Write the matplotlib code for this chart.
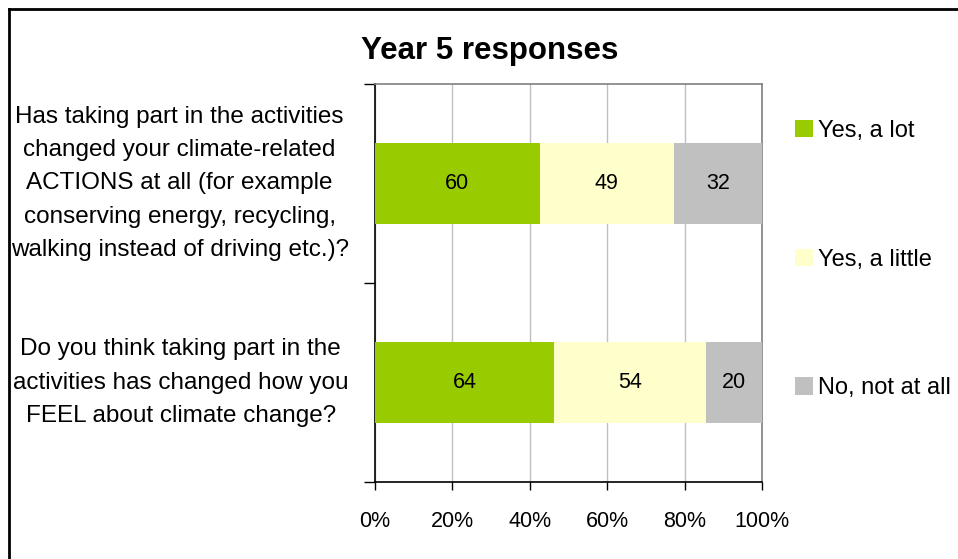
import numpy as np
import matplotlib.pyplot as plt
from matplotlib.lines import Line2D

plt.rcParams['font.family'] = ['Liberation Sans', 'DejaVu Sans']

questions = [
    "Has taking part in the activities\nchanged your climate-related\nACTIONS at all (for example\nconserving energy, recycling,\nwalking instead of driving etc.)?",
    "Do you think taking part in the\nactivities has changed how you\nFEEL about climate change?",
]
answers = ["Yes, a lot", "Yes, a little", "No, not at all"]
yes_lot = [60, 64]
yes_little = [49, 54]
not_at_all = [32, 20]
colors = ["#99CC00", "#FFFFCC", "#C0C0C0"]

counts = np.array([yes_lot, yes_little, not_at_all], dtype=float)
shares = counts / counts.sum(axis=0) * 100

fig = plt.figure(figsize=(9.58, 5.59), dpi=100)
ax = fig.add_axes([375 / 958, 1 - 482 / 559, 387 / 958, 398 / 559])

ypos = np.arange(len(questions))
left = np.zeros(len(questions))
for i, name in enumerate(answers):
    bars = ax.barh(ypos, shares[i], left=left, height=0.41, color=colors[i],
                   label=name, zorder=3)
    ax.bar_label(bars, labels=[f"{int(v)}" for v in counts[i]],
                 label_type='center', fontsize=15.5)
    left += shares[i]

ax.set_xlim(0, 100)
ax.set_ylim(1.5, -0.5)
ax.set_xticks(np.arange(0, 101, 20))
ax.set_xticklabels([f"{v}%" for v in range(0, 101, 20)], fontsize=15.5)
ax.tick_params(axis='x', length=6, width=1, pad=15)
ax.grid(axis='x', color='#C0C0C0', lw=1, zorder=0)

# category boundaries carry the tick marks, centers carry the labels
ax.set_yticks([-0.5, 0.5, 1.5])
ax.set_yticklabels([])
ax.tick_params(axis='y', which='major', length=8, width=1)
ax.set_yticks(ypos, minor=True)
ax.set_yticklabels(questions, minor=True, fontsize=17.5, ha='right', va='center',
                   multialignment='center', linespacing=1.65)
ax.tick_params(axis='y', which='minor', length=0, pad=19)

for side in ['left', 'bottom']:
    ax.spines[side].set_color('black')
    ax.spines[side].set_linewidth(1.2)
for side in ['top', 'right']:
    ax.spines[side].set_color('#808080')
    ax.spines[side].set_linewidth(1.2)

fig.text(490 / 958, 1 - 51 / 559, "Year 5 responses", fontsize=22.5,
         fontweight='bold', ha='center', va='center')

ax.legend(loc='center left', bbox_to_anchor=(1.03, 0.559), frameon=False,
          fontsize=17, handlelength=0.75, handleheight=0.75, handletextpad=0.22,
          labelspacing=4.52)

# outer chart frame
fig.add_artist(Line2D([8.5 / 958, 1], [1 - 8.5 / 559] * 2, color='black', lw=2))
fig.add_artist(Line2D([8.5 / 958] * 2, [0, 1 - 8.5 / 559], color='black', lw=2))

fig.savefig("out.png", dpi=100)
